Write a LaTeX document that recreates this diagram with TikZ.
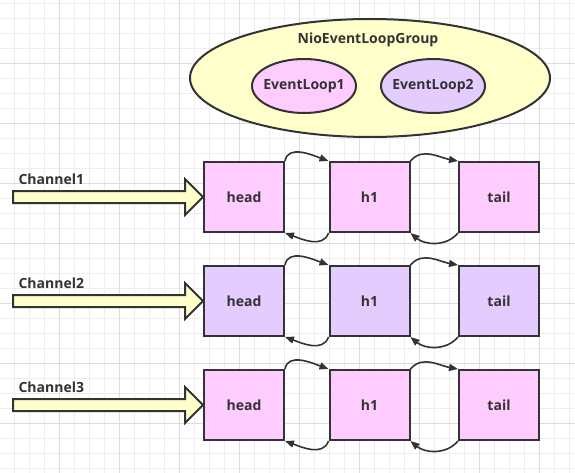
\documentclass[tikz,border=0pt]{standalone}
\usepackage{fontspec}
\setmainfont{Open Sans}
\usetikzlibrary{arrows.meta,shapes.geometric,calc}
\definecolor{pinkf}{HTML}{FFCCFF}
\definecolor{purpf}{HTML}{E5CCFF}
\definecolor{yelf}{HTML}{FFFFCC}
\definecolor{strk}{HTML}{333333}
\definecolor{gridminor}{HTML}{EEEEEE}
\definecolor{gridmajor}{HTML}{DDDDDD}
\tikzset{
  txt/.style={font=\fontsize{14}{16}\selectfont\bfseries, text=strk},
  cell/.style={draw=strk, line width=2pt, minimum width=80pt, minimum height=70pt, inner sep=0pt, txt},
  grp/.style={ellipse, draw=strk, line width=2pt, fill=yelf, minimum width=360pt, minimum height=118pt, inner sep=0pt},
  loopnode/.style={ellipse, draw=strk, line width=2pt, minimum width=104pt, minimum height=54pt, inner sep=0pt},
  link/.style={draw=strk, line width=1.6pt, -{Triangle[length=9pt,width=7pt]}},
  blockarrow/.style={draw=strk, line width=2pt, fill=yelf, line join=miter},
}
\begin{document}
\begin{tikzpicture}[x=1pt,y=-1pt]
\useasboundingbox (0,0) rectangle (575,473);
\fill[white] (0,0) rectangle (575,473);
\foreach \i in {0,...,37} {\draw[gridminor,line width=1pt] (14.3+15*\i,0) -- ++(0,473);}
\foreach \i in {0,...,31} {\draw[gridminor,line width=1pt] (0,3.3+15*\i) -- ++(575,0);}
\foreach \i in {0,...,8} {\draw[gridmajor,line width=1pt] (59.3+60*\i,0) -- ++(0,473);}
\foreach \i in {0,...,6} {\draw[gridmajor,line width=1pt] (0,63.3+60*\i) -- ++(575,0);}

\node[grp] (group) at (370,78) {};
\node[txt] (grouplabel) at (368,40) {NioEventLoopGroup};
\node[loopnode, fill=pinkf, label={[txt]center:EventLoop1}] (el1) at (304,86) {};
\node[loopnode, fill=purpf, label={[txt]center:EventLoop2}] (el2) at (433,86) {};

\foreach \r/\y/\c in {1/197/pinkf, 2/301/purpf, 3/405/pinkf} {
  \node[cell, fill=\c] (head\r) at (244,\y) {head};
  \node[cell, fill=\c] (hone\r) at (369.5,\y) {h1};
  \node[cell, fill=\c] (tail\r) at (499,\y) {tail};
  \node[txt, anchor=west] (ch\r) at (15,\y-18) {Channel\r};
  \draw[blockarrow] ($(head\r.west)+(-190,-6)$) -- ($(head\r.west)+(-18,-6)$)
     -- ($(head\r.west)+(-18,-18)$) -- (head\r.west) -- ($(head\r.west)+(-18,18)$)
     -- ($(head\r.west)+(-18,6)$) -- ($(head\r.west)+(-190,6)$) -- cycle;
  \draw[link] (head\r.north east) to[out=80,in=160] (hone\r.north west);
  \draw[link] (hone\r.south west) to[out=-110,in=-20] (head\r.south east);
  \draw[link] (hone\r.north east) to[out=50,in=170] (tail\r.north west);
  \draw[link] (tail\r.south west) to[out=-130,in=-40] (hone\r.south east);
}
\end{tikzpicture}
\end{document}
